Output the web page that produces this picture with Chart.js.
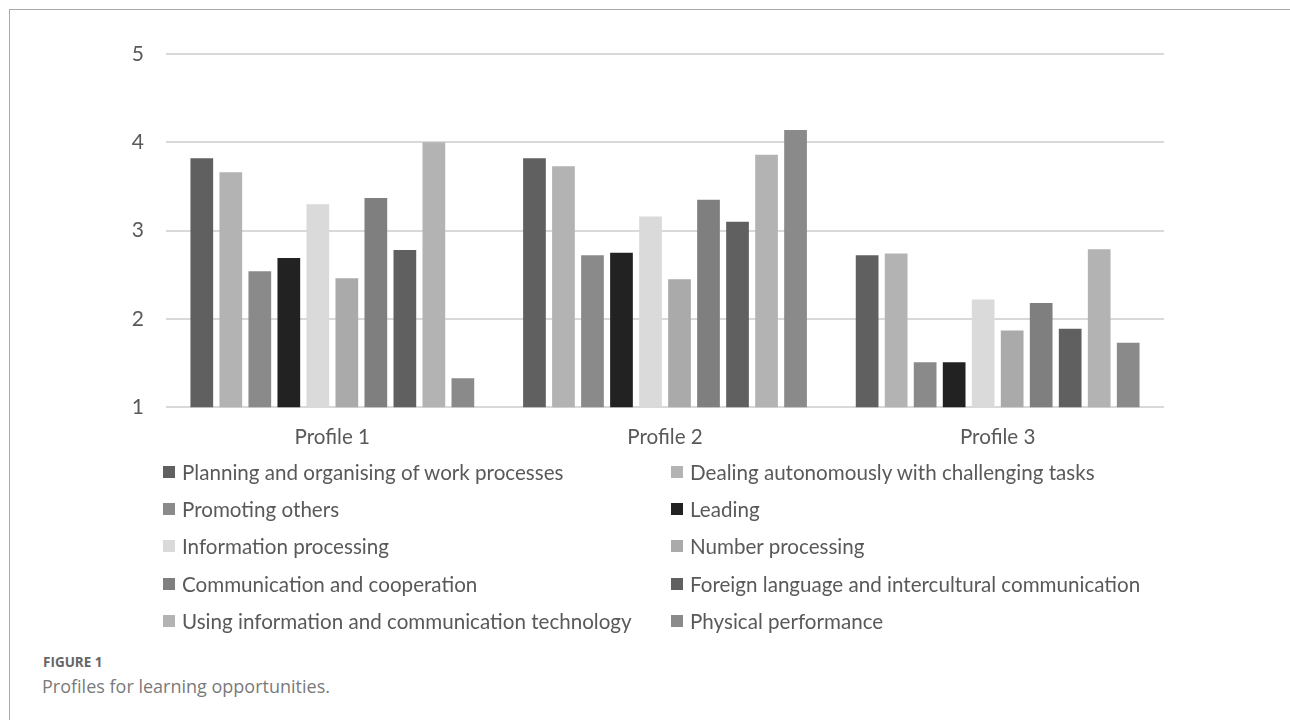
<!DOCTYPE html>
<html>
<head>
<meta charset="utf-8">
<script src="https://cdn.jsdelivr.net/npm/chart.js@4/dist/chart.umd.min.js"></script>
<style>
    body { margin: 0; background: #fff; width: 1290px; height: 720px; overflow: hidden; position: relative; font-family: Lato, sans-serif; }
    #frame { position: absolute; left: 9px; top: 9px; width: 1290px; height: 720px; border-left: 1px solid #aaa; border-top: 1px solid #aaa; }
    #chartBox { position: absolute; left: 0; top: 0; width: 1290px; height: 460px; }
    #legend { position: absolute; left: 163px; top: 453px; display: grid; grid-template-columns: 508px 500px; row-gap: 0; }
    .item { height: 37.3px; display: flex; align-items: center; color: #595959; font-size: 20.6px; white-space: nowrap; }
    .box { width: 12px; height: 12px; margin-right: 7px; flex: none; }
    #figLabel { position: absolute; left: 43px; top: 653px; font-family: 'Open Sans', sans-serif; font-size: 13.5px; font-weight: bold; color: #666; }
    #caption { position: absolute; left: 42px; top: 674px; font-family: 'Open Sans', sans-serif; font-size: 18px; color: #7a7a7a; }
</style>
</head>
<body>
<div id="frame"></div>
<div id="chartBox"><canvas id="chart"></canvas></div>
<div id="legend"></div>
<div id="figLabel">FIGURE 1</div>
<div id="caption">Profiles for learning opportunities.</div>
<script>
const profiles = ['Profile 1', 'Profile 2', 'Profile 3'];
const yTicks = [1, 2, 3, 4, 5];

const competencies = [
    'Planning and organising of work processes',
    'Dealing autonomously with challenging tasks',
    'Promoting others',
    'Leading',
    'Information processing',
    'Number processing',
    'Communication and cooperation',
    'Foreign language and intercultural communication',
    'Using information and communication technology',
    'Physical performance'
];

const planning      = [3.82, 3.82, 2.72];
const dealing       = [3.66, 3.73, 2.74];
const promoting     = [2.54, 2.72, 1.51];
const leading       = [2.69, 2.75, 1.51];
const information   = [3.30, 3.16, 2.22];
const numbers       = [2.46, 2.45, 1.87];
const communication = [3.37, 3.35, 2.18];
const foreignLang   = [2.78, 3.10, 1.89];
const ict           = [4.00, 3.86, 2.79];
const physical      = [1.33, 4.14, 1.73];

const seriesValues = [planning, dealing, promoting, leading, information, numbers, communication, foreignLang, ict, physical];
const colours = ['#606060', '#b3b3b3', '#8a8a8a', '#222222', '#dadada', '#aaaaaa', '#7f7f7f', '#606060', '#b3b3b3', '#8a8a8a'];

const textColour = '#595959';
const gridColour = '#d9d9d9';

const datasets = competencies.map((name, i) => ({
    label: name,
    data: seriesValues[i],
    backgroundColor: colours[i],
    borderWidth: 0,
    categoryPercentage: 0.872,
    barPercentage: 0.783
}));

const chart = new Chart(document.getElementById('chart'), {
    type: 'bar',
    data: { labels: profiles, datasets: datasets },
    options: {
        responsive: true,
        maintainAspectRatio: false,
        animation: false,
        layout: { padding: { left: 0, right: 126, top: 54, bottom: 0 } },
        plugins: {
            legend: { display: false },
            tooltip: { enabled: false }
        },
        scales: {
            x: {
                grid: { display: false },
                border: { display: false },
                ticks: { color: textColour, font: { family: 'Lato', size: 20.6 }, padding: 10 }
            },
            y: {
                min: 1,
                max: 5,
                afterFit: (scale) => { scale.width = 166; },
                afterBuildTicks: (scale) => { scale.ticks = yTicks.map(v => ({ value: v })); },
                grid: { color: gridColour, lineWidth: 2, drawTicks: false },
                border: { display: false },
                ticks: { color: textColour, font: { family: 'Lato', size: 21 }, padding: 22 }
            }
        }
    }
});

// legend drawn as html, two columns like the original
const legendBox = document.getElementById('legend');
chart.data.datasets.forEach((ds) => {
    const item = document.createElement('div');
    item.className = 'item';
    item.innerHTML = `<span class="box" style="background:${ds.backgroundColor}"></span>${ds.label}`;
    legendBox.appendChild(item);
});
</script>
</body>
</html>
